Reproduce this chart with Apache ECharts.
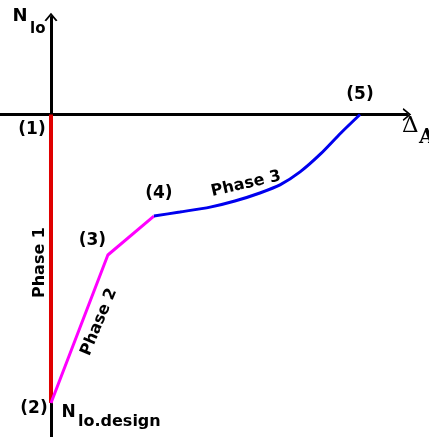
<!DOCTYPE html>
<html>
<head>
<meta charset="utf-8">
<script src="https://cdn.jsdelivr.net/npm/echarts@6/dist/echarts.min.js"></script>
<style>
  html, body { margin: 0; padding: 0; background: #fff; }
  #chart { width: 429px; height: 437px; }
</style>
</head>
<body>
<div id="chart"></div>
<script>
// values in normalised units: delta at (5) = 1, N at (2) = -1
var phase1 = [[0, 0], [0, -1]];
var phase2 = [[0, -1], [0.184, -0.487], [0.333, -0.352]];
var phase3 = [
  [0.333, -0.352], [0.417, -0.338], [0.515, -0.321], [0.595, -0.300],
  [0.676, -0.272], [0.741, -0.244], [0.806, -0.199], [0.874, -0.135],
  [0.938, -0.064], [1.0, 0]
];
var pointNames = ['(1)', '(2)', '(3)', '(4)', '(5)'];
var pointValues = [[0, 0], [0, -1], [0.184, -0.487], [0.333, -0.352], [1.0, 0]];

var chevron = 'path://M0,12 L10,0 L20,12 L17.5,13 L10,4 L2.5,13 Z';
var fontFam = 'DejaVu Sans';
var serif = 'DejaVu Serif';

var chart = echarts.init(document.getElementById('chart'));

function txt(x, y, s, size, bold, fam, align, rot) {
  return {
    type: 'text', x: x, y: y, rotation: rot || 0,
    style: {
      text: s, fontSize: size, fontWeight: bold ? 'bold' : 'normal',
      fontFamily: fam || fontFam, fill: '#000',
      align: align || 'left', verticalAlign: 'middle'
    }
  };
}

var labelOffsets = [[-19, 15], [-17, 6], [-15.5, -14], [5, -22], [0, -19.5]];

var option = {
  animation: false,
  grid: { left: 0, right: 22, top: 17, bottom: 0 },
  xAxis: {
    type: 'value',
    min: -0.165,
    max: 1.152,
    axisLine: {
      onZero: true,
      symbol: ['none', chevron],
      symbolSize: [13, 19],
      lineStyle: { color: '#000', width: 3 }
    },
    axisTick: { show: false },
    axisLabel: { show: false },
    splitLine: { show: false }
  },
  yAxis: {
    type: 'value',
    min: -1.1179,
    max: 0.338,
    axisLine: {
      onZero: true,
      symbol: ['none', chevron],
      symbolSize: [13, 19],
      lineStyle: { color: '#000', width: 3 }
    },
    axisTick: { show: false },
    axisLabel: { show: false },
    splitLine: { show: false }
  },
  series: [
    {
      type: 'line', data: phase1, symbol: 'none',
      lineStyle: { color: '#e00000', width: 4 }
    },
    {
      type: 'line', data: phase2, symbol: 'none',
      lineStyle: { color: '#ff00ff', width: 3 }
    },
    {
      type: 'line', data: phase3, symbol: 'none', smooth: 0.25,
      lineStyle: { color: '#0000ee', width: 3 }
    },
    {
      type: 'scatter',
      symbolSize: 0,
      silent: true,
      itemStyle: { opacity: 1 },
      data: pointValues.map(function (v, i) {
        return {
          value: v,
          label: {
            show: true,
            position: 'inside',
            formatter: pointNames[i],
            offset: labelOffsets[i],
            color: '#000',
            opacity: 1,
            fontSize: 17,
            fontWeight: 'bold',
            fontFamily: fontFam
          }
        };
      })
    }
  ],
  graphic: [
    txt(20, 16, 'N', 18, true, fontFam, 'center'),
    txt(30, 29.5, 'lo', 15, true),
    txt(402, 126, 'Δ', 23, false, serif),
    txt(419, 138, 'A', 20, true, serif),
    txt(68.5, 412.5, 'N', 17, true, fontFam, 'center'),
    txt(78, 422, 'lo.design', 16, true),
    txt(39.5, 262.5, 'Phase 1', 16, true, fontFam, 'center', Math.PI / 2),
    txt(99, 322, 'Phase 2', 16, true, fontFam, 'center', 67.5 * Math.PI / 180),
    txt(246, 184, 'Phase 3', 16, true, fontFam, 'center', 13 * Math.PI / 180)
  ]
};

chart.setOption(option);
</script>
</body>
</html>
